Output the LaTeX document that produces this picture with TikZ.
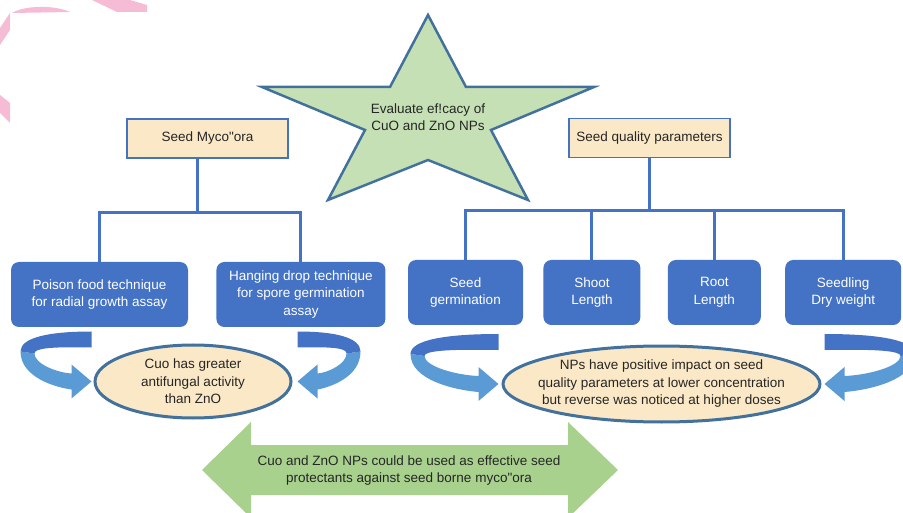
\documentclass[tikz,border=0pt]{standalone}
\usepackage{fontspec}
\newfontfamily\labelfont{Liberation Sans}
\usetikzlibrary{positioning, shapes.geometric}
\definecolor{boxBlue}{HTML}{4472C4}
\definecolor{edgeBlue}{HTML}{41719C}
\definecolor{ribbonBlue}{HTML}{5B9BD5}
\definecolor{paleTan}{HTML}{FAE8C6}
\definecolor{starGreen}{HTML}{C5E0B4}
\definecolor{arrowGreen}{HTML}{A9D18E}
\definecolor{logoPink}{HTML}{F6BCD5}
\tikzset{x=1pt, y=-1pt, every node/.style={font=\labelfont\fontsize{13.5}{17.5}\selectfont, align=center, text=black!85}}
\newcommand{\ribbonarrow}[3]{%
	\begin{scope}[shift={(#1)}, xscale=#3]
		\fill[ribbon light] (-#2,-30) .. controls (-#2,-4) and (-0.5*#2,6) .. (-20,8) -- (-20,17) -- (0,0) -- (-20,-17) -- (-20,-8) .. controls (-0.5*#2,-9) and (-#2+14,-18) .. (-#2+14,-28) -- cycle;
		\fill[ribbon dark] (0,-50) .. controls (-0.6*#2,-50) and (-#2,-44) .. (-#2,-30) -- (-#2+14,-28) .. controls (-#2+14,-33) and (-0.6*#2,-35) .. (0,-34) -- cycle;
	\end{scope}}

\begin{document}
\begin{tikzpicture}[tree/.style={draw=boxBlue, line width=3pt}, topic/.style={draw=boxBlue, line width=1.2pt, fill=paleTan, minimum height=39pt, inner sep=3pt}, method/.style={fill=boxBlue, text=white, rounded corners=8pt, minimum height=65pt, inner sep=3pt}, finding/.style={ellipse, draw=edgeBlue, line width=3pt, fill=paleTan, inner sep=0pt}, ribbon dark/.style={fill=boxBlue}, ribbon light/.style={fill=ribbonBlue}]
	\clip (0,0) rectangle (903,513);
	\fill[logoPink] (92,0) -- (130,0) -- (147,5) -- (147,12) -- (117,12) -- cycle;
	\fill[logoPink] (12,13) .. controls (25,5) and (55,5) .. (70,12) -- cycle;
	\fill[logoPink] (10,13) -- (10,30) -- (0,45) -- (0,28) -- cycle;
	\fill[logoPink] (0,95) -- (10,103) -- (10,123) -- (0,113) -- cycle;
	\draw[fill=starGreen, draw=edgeBlue, line width=2.5pt, line join=miter] (428,15) -- (466,87) -- (594,87) -- (491,130) -- (528,200) -- (428,160) -- (328,200) -- (365,130) -- (262,87) -- (390,87) -- cycle;
	\node (Evaluate) at (428,117) {Evaluate ef!cacy of\\CuO and ZnO NPs};
	\node[topic, minimum width=161pt] (Seed Mycoflora) at (207.5,138.5) {Seed Myco"ora};
	\node[topic, minimum width=161pt] (Seed Quality) at (649.5,138) {Seed quality parameters};
	\node[method, minimum width=177pt] (Poison Food) at (99.5,294.5) {Poison food technique\\for radial growth assay};
	\node[method, minimum width=169pt, right=28pt of Poison Food] (Hanging Drop) {Hanging drop technique\\for spore germination\\assay};
	\node[method, minimum width=115pt] (Seed Germination) at (465.5,292.5) {Seed\\germination};
	\node[method, minimum width=97pt, right=20pt of Seed Germination] (Shoot Length) {Shoot\\Length};
	\node[method, minimum width=93pt, right=27pt of Shoot Length] (Root Length) {Root\\Length};
	\node[method, minimum width=116pt, right=24pt of Root Length] (Dry Weight) {Seedling\\Dry weight};
	\draw[tree] ([xshift=-10pt]Seed Mycoflora.south) -- ++(0,54) coordinate (Myco Joint);
	\draw[tree] (Poison Food.north) |- (Myco Joint) -| (Hanging Drop.north);
	\draw[tree] (Seed Quality.south) -- ++(0,52) coordinate (Quality Joint);
	\draw[tree] (Seed Germination.north) |- (Quality Joint) -| (Dry Weight.north);
	\draw[tree] (Shoot Length.north) |- (Quality Joint);
	\draw[tree] (Root Length.north) |- (Quality Joint);
	\node[finding, minimum width=196pt, minimum height=73pt, label={center:Cuo has greater\\antifungal activity\\than ZnO}] (Antifungal) at (193,381.5) {};
	\node[finding, minimum width=317pt, minimum height=76pt, label={center:NPs have positive impact on seed\\quality parameters at lower concentration\\but reverse was noticed at higher doses}] (Seed Impact) at (661.5,384) {};
	\ribbonarrow{[xshift=-2pt]Antifungal.west}{71}{1}
	\ribbonarrow{[xshift=5pt]Antifungal.east}{63}{-1}
	\ribbonarrow{[xshift=-3pt]Seed Impact.west}{88}{1}
	\ribbonarrow{[xshift=3pt]Seed Impact.east}{90}{-1}
	\fill[arrowGreen] (202,470) -- (251,422) -- (251,445) -- (568,445) -- (568,422) -- (618,470) -- (568,518) -- (568,495) -- (251,495) -- (251,518) -- cycle;
	\node (Protectants) at (409,470.5) {Cuo and ZnO NPs could be used as effective seed\\protectants against seed borne myco"ora};
\end{tikzpicture}
\end{document}
